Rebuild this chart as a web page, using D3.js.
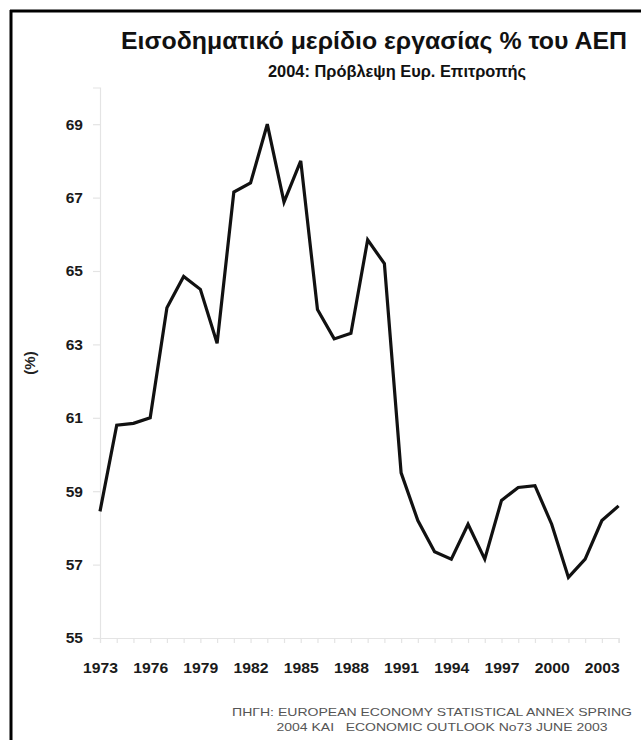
<!DOCTYPE html>
<html>
<head>
<meta charset="utf-8">
<script src="https://cdn.jsdelivr.net/npm/d3@7"></script>
<style>
  html, body { margin: 0; padding: 0; background: #fff; }
  svg { display: block; font-family: "Liberation Sans", Arial, sans-serif; }
</style>
</head>
<body>
<svg id="chart" width="641" height="740"></svg>
<script>
const years = [1973,1974,1975,1976,1977,1978,1979,1980,1981,1982,1983,1984,1985,1986,1987,1988,
               1989,1990,1991,1992,1993,1994,1995,1996,1997,1998,1999,2000,2001,2002,2003,2004];
const laborShare = [58.45,60.8,60.85,61.0,64.0,64.85,64.5,63.03,67.15,67.4,69.0,66.88,68.0,63.95,63.15,63.3,
                    65.85,65.2,59.5,58.2,57.35,57.15,58.1,57.15,58.75,59.1,59.15,58.1,56.65,57.15,58.2,58.6];
const xTickLabels = [1973,1976,1979,1982,1985,1988,1991,1994,1997,2000,2003];
const yTickLabels = [55,57,59,61,63,65,67,69];
const title = "Εισοδηματικό μερίδιο εργασίας % του ΑΕΠ";
const subtitle = "2004: Πρόβλεψη Ευρ. Επιτροπής";
const yLabel = "(%)";
const source = ["ΠΗΓΗ: EUROPEAN ECONOMY STATISTICAL ANNEX SPRING", "2004 ΚΑΙ   ECONOMIC OUTLOOK No73 JUNE 2003"];

const svg = d3.select("#chart");

// frame (top & left)
svg.append("line").attr("x1", 10).attr("x2", 641).attr("y1", 11).attr("y2", 11)
   .attr("stroke", "#000").attr("stroke-width", 3);
svg.append("line").attr("x1", 11).attr("x2", 11).attr("y1", 10).attr("y2", 740)
   .attr("stroke", "#000").attr("stroke-width", 3);

const x = d3.scaleLinear().domain([1973, 2004]).range([100, 618.6]);
const y = d3.scaleLinear().domain([55, 70]).range([638, 87.5]);

const axisColor = "#e4e4e4";

// y axis
const gy = svg.append("g").attr("transform", "translate(100,0)")
  .call(d3.axisLeft(y).tickValues(yTickLabels).tickSize(7).tickPadding(10).tickFormat(d3.format("d")));
gy.select(".domain").attr("stroke", axisColor).attr("stroke-width", 1.2);
gy.selectAll(".tick line").attr("stroke", axisColor).attr("stroke-width", 1.2);
gy.selectAll(".tick text").attr("fill", "#1a1a1a").style("font-size", "15.5px").style("font-weight", "bold");

// x axis minor ticks
const gx = svg.append("g").attr("transform", "translate(0,638)")
  .call(d3.axisBottom(x).tickValues(years).tickSize(5).tickFormat(""));
gx.select(".domain").attr("stroke", axisColor).attr("stroke-width", 1.2);
gx.selectAll(".tick line").attr("stroke", axisColor).attr("stroke-width", 1.2);

// x axis labels
const gxl = svg.append("g").attr("transform", "translate(0,638)")
  .call(d3.axisBottom(x).tickValues(xTickLabels).tickSize(0).tickPadding(24).tickFormat(d3.format("d")));
gxl.select(".domain").remove();
gxl.selectAll(".tick text").attr("fill", "#1a1a1a").style("font-size", "15.5px").style("font-weight", "bold")
  .attr("textLength", 35).attr("lengthAdjust", "spacingAndGlyphs");

// line
const line = d3.line().x((d, i) => x(years[i])).y(d => y(d));
svg.append("path").datum(laborShare)
  .attr("d", line).attr("fill", "none").attr("stroke", "#111")
  .attr("stroke-width", 3.2).attr("stroke-linejoin", "miter");

// titles
svg.append("text").attr("x", 374).attr("y", 49).attr("text-anchor", "middle")
  .style("font-size", "24.5px").style("font-weight", "bold").attr("fill", "#111")
  .attr("textLength", 506).attr("lengthAdjust", "spacingAndGlyphs").text(title);
svg.append("text").attr("x", 397).attr("y", 77).attr("text-anchor", "middle")
  .style("font-size", "16.5px").style("font-weight", "bold").attr("fill", "#111")
  .attr("textLength", 258).attr("lengthAdjust", "spacingAndGlyphs").text(subtitle);

// y label
svg.append("text").attr("transform", "translate(35,363) rotate(-90)").attr("text-anchor", "middle")
  .style("font-size", "15px").style("font-weight", "bold").attr("fill", "#222").text(yLabel);

// source
const srcLen = [400, 331];
const srcX = [432, 442];
svg.selectAll(".src").data(source).enter().append("text")
  .attr("x", (d, i) => srcX[i]).attr("y", (d, i) => 716 + i * 15).attr("text-anchor", "middle")
  .style("font-size", "11.5px").style("white-space", "pre").attr("fill", "#555")
  .attr("textLength", (d, i) => srcLen[i]).attr("lengthAdjust", "spacingAndGlyphs")
  .text(d => d);
</script>
</body>
</html>
